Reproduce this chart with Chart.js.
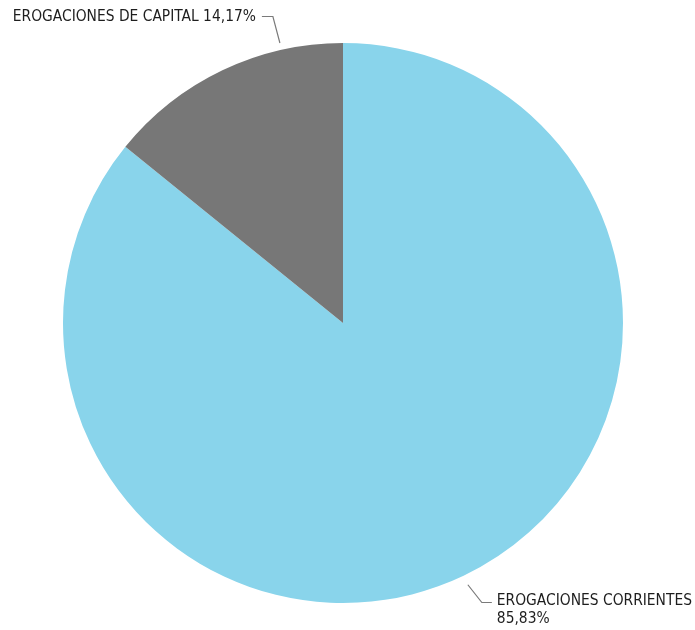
<!DOCTYPE html>
<html>
<head>
<meta charset="utf-8">
<script src="https://cdn.jsdelivr.net/npm/chart.js@4.4.0/dist/chart.umd.min.js"></script>
<style>
html,body{margin:0;padding:0;background:#fff;}
#wrap{width:695px;height:630px;position:relative;}
</style>
</head>
<body>
<div id="wrap"><canvas id="c" width="695" height="630"></canvas></div>
<script>
const categories = ["EROGACIONES CORRIENTES", "EROGACIONES DE CAPITAL"];
const values = [85.83, 14.17];
const valueLabels = ["85,83%", "14,17%"];
const colors = ["#89D4EB", "#777777"];

const FONT = "15.4px 'DejaVu Sans Condensed', 'Roboto', sans-serif";

const labelPlugin = {
  id: 'leaderLabels',
  afterDatasetsDraw(chart) {
    const ctx = chart.ctx;
    const arc = chart.getDatasetMeta(0).data[0];
    const cx = arc.x, cy = arc.y, r = arc.outerRadius;
    const pt = (deg, rr) => {
      const a = (deg - 90) * Math.PI / 180;
      return [cx + rr * Math.cos(a), cy + rr * Math.sin(a)];
    };
    ctx.save();
    ctx.strokeStyle = "#7a7a7a";
    ctx.lineWidth = 1.2;
    ctx.fillStyle = "#1e1e1e";
    ctx.font = FONT;
    ctx.textBaseline = "middle";
    // Capital label (top-left)
    let [ax, ay] = pt(-12.7, r + 7);
    ctx.beginPath();
    ctx.moveTo(ax, ay);
    ctx.lineTo(ax - 7, 16.5);
    ctx.lineTo(ax - 18, 16.5);
    ctx.stroke();
    ctx.textAlign = "right";
    ctx.fillText(categories[1] + " " + valueLabels[1], ax - 24, 17);
    // Corrientes label (bottom-right)
    [ax, ay] = pt(154.5, r + 10);
    ctx.beginPath();
    ctx.moveTo(ax, ay);
    ctx.lineTo(ax + 14, 602.5);
    ctx.lineTo(ax + 24, 602.5);
    ctx.stroke();
    ctx.textAlign = "left";
    ctx.fillText(categories[0], ax + 29, 601);
    ctx.fillText(valueLabels[0], ax + 29, 619);
    ctx.restore();
  }
};

new Chart(document.getElementById('c'), {
  type: 'pie',
  data: {
    labels: categories,
    datasets: [{
      data: values,
      backgroundColor: colors,
      borderWidth: 0
    }]
  },
  options: {
    responsive: false,
    animation: false,
    layout: { padding: { top: 43, bottom: 27, left: 63, right: 72 } },
    plugins: { legend: { display: false }, tooltip: { enabled: false } }
  },
  plugins: [labelPlugin]
});
</script>
</body>
</html>
